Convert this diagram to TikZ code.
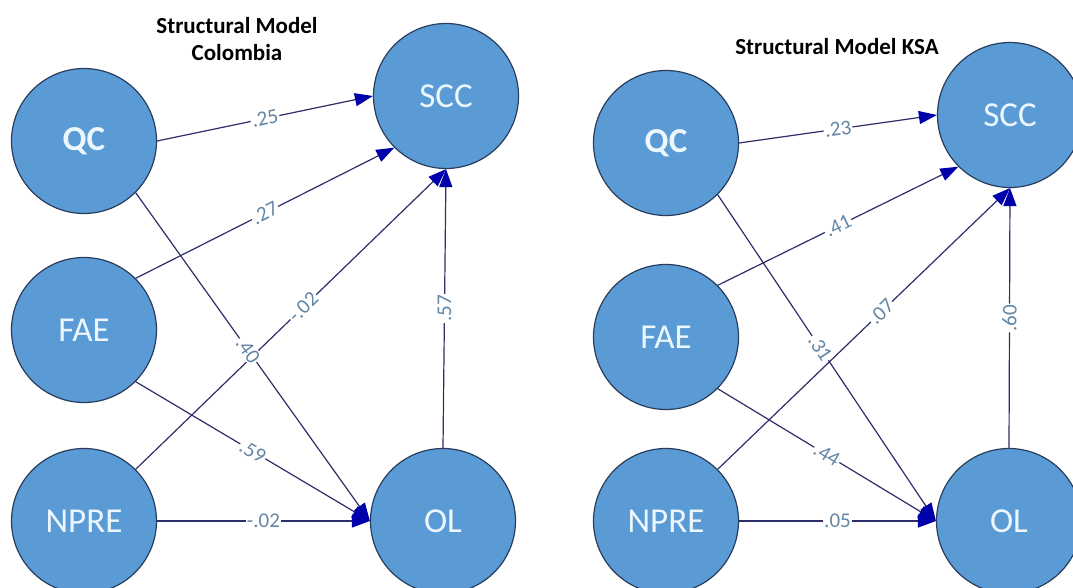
\documentclass[tikz,border=0pt]{standalone}
\usepackage{fontspec}
\setmainfont{Carlito}
\usetikzlibrary{arrows.meta}
\definecolor{nodefill}{RGB}{91,155,213}
\definecolor{nodeborder}{RGB}{41,61,92}
\definecolor{nodetext}{RGB}{236,246,253}
\definecolor{edgecol}{RGB}{45,45,105}
\definecolor{arrowcol}{RGB}{0,0,170}
\definecolor{labelcol}{RGB}{100,135,165}
\tikzset{
  latent/.style={circle, minimum size=145pt, inner sep=0pt, fill=nodefill, draw=nodeborder, line width=1.2pt, text=nodetext, font=\fontsize{35}{40}\selectfont},
  conn/.style={draw=edgecol, line width=1.2pt, -{Triangle[length=18pt,width=13pt,color=arrowcol]}},
  lbl/.style={pos=0.5, sloped, fill=white, inner sep=1.2pt, text=labelcol, font=\fontsize{21}{24}\selectfont},
  ttl/.style={font=\fontsize{23}{27}\selectfont\bfseries, align=center, text=black}
}
\begin{document}
\begin{tikzpicture}[x=1pt,y=-1pt]
\useasboundingbox (0,0) rectangle (1073,588);
\clip (0,0) rectangle (1073,588);
% titles
\node[ttl] (t1) at (237,39) {Structural Model\\Colombia};
\node[ttl] (t2) at (837,47) {Structural Model KSA};
% left model
\node[latent, font=\fontsize{35}{40}\selectfont\bfseries] (qc1) at (84,141) {QC};
\node[latent] (scc1) at (446,96) {SCC};
\node[latent] (fae1) at (84,330) {FAE};
\node[latent] (npre1) at (84,521) {NPRE};
\node[latent] (ol1) at (443,521) {OL};
% right model
\node[latent, font=\fontsize{35}{40}\selectfont\bfseries] (qc2) at (666,143) {QC};
\node[latent] (scc2) at (1010,115) {SCC};
\node[latent] (fae2) at (666,337) {FAE};
\node[latent] (npre2) at (666,521) {NPRE};
\node[latent] (ol2) at (1009,521) {OL};
% edges left
\draw[conn] (qc1.east) -- (scc1.west);
\draw[conn] (fae1.north east) -- (scc1.south west);
\draw[conn] (npre1.north east) -- (scc1.south);
\draw[conn] (ol1.north) -- (scc1.south);
\draw[conn] (qc1.south east) -- (ol1.west);
\draw[conn] (fae1.south east) -- (ol1.west);
\draw[conn] (npre1.east) -- (ol1.west);
% edges right
\draw[conn] (qc2.east) -- (scc2.west);
\draw[conn] (fae2.north east) -- (scc2.south west);
\draw[conn] (npre2.north east) -- (scc2.south);
\draw[conn] (ol2.north) -- (scc2.south);
\draw[conn] (qc2.south east) -- (ol2.west);
\draw[conn] (fae2.south east) -- (ol2.west);
\draw[conn] (npre2.east) -- (ol2.west);
% labels left
\path (qc1.east) -- (scc1.west) node[lbl] {.25};
\path (fae1.north east) -- (scc1.south west) node[lbl] {.27};
\path (npre1.north east) -- (scc1.south) node[lbl, pos=0.54] {-.02};
\path (ol1.north) -- (scc1.south) node[lbl] {.57};
\path (qc1.south east) -- (ol1.west) node[lbl, pos=0.48] {.40};
\path (fae1.south east) -- (ol1.west) node[lbl] {.59};
\path (npre1.east) -- (ol1.west) node[lbl] {-.02};
% labels right
\path (qc2.east) -- (scc2.west) node[lbl] {.23};
\path (fae2.north east) -- (scc2.south west) node[lbl] {.41};
\path (npre2.north east) -- (scc2.south) node[lbl, pos=0.56] {.07};
\path (ol2.north) -- (scc2.south) node[lbl] {.60};
\path (qc2.south east) -- (ol2.west) node[lbl, pos=0.47] {.31};
\path (fae2.south east) -- (ol2.west) node[lbl] {.44};
\path (npre2.east) -- (ol2.west) node[lbl] {.05};
\end{tikzpicture}
\end{document}
